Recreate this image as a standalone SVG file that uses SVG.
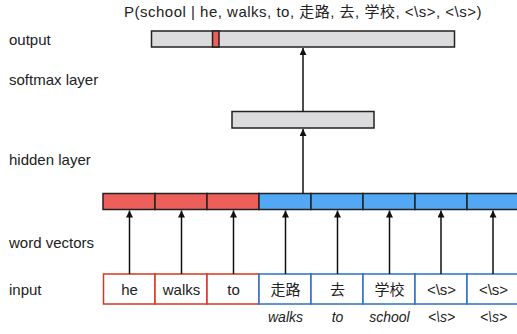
<svg xmlns="http://www.w3.org/2000/svg" width="517" height="334" viewBox="0 0 517 334">
<style>
text{font-family:"Liberation Sans","Noto Sans CJK SC",Arial,sans-serif;fill:#222;}
.lbl{font-size:15px;}
.ttl{font-size:15px;letter-spacing:0.5px;text-anchor:middle;}
.word{font-size:15px;text-anchor:middle;}
.it{font-size:14px;font-style:italic;text-anchor:middle;}
.gray{fill:#DCDCDE;stroke:#222;stroke-width:1.5;}
.red{fill:#EC5F5B;stroke:#222;stroke-width:1.5;}
.blue{fill:#52A8F5;stroke:#222;stroke-width:1.5;}
.inr{fill:#fff;stroke:#D5391E;stroke-width:1.5;}
.inb{fill:#fff;stroke:#2A72C8;stroke-width:1.5;}
.arr{stroke:#111;stroke-width:1.5;fill:none;marker-end:url(#ah);}
</style>
<defs>
<marker id="ah" viewBox="0 0 10 10" refX="10" refY="5" markerWidth="7" markerHeight="7" markerUnits="userSpaceOnUse" orient="auto">
<path d="M0,0 L10,5 L0,10 z" fill="#111"/>
</marker>
</defs>
<g id="labels">
<text class="ttl" x="303" y="17">P(school | he, walks, to, 走路, 去, 学校, &lt;\s&gt;, &lt;\s&gt;)</text>
<text class="lbl" x="9" y="45">output</text>
<text class="lbl" x="9" y="85">softmax layer</text>
<text class="lbl" x="9" y="165">hidden layer</text>
<text class="lbl" x="9" y="248">word vectors</text>
<text class="lbl" x="9" y="295">input</text>
</g>
<g id="output">
<rect class="gray" x="151.5" y="31" width="303" height="16"/>
<rect class="red" x="212.5" y="31" width="6.5" height="16"/>
</g>
<g id="hidden">
<rect class="gray" x="232" y="111.5" width="142" height="16.5"/>
</g>
<g id="wordvectors">
<rect class="red" x="103" y="193.5" width="52" height="16"/>
<rect class="red" x="155" y="193.5" width="52" height="16"/>
<rect class="red" x="207" y="193.5" width="52" height="16"/>
<rect class="blue" x="259" y="193.5" width="52" height="16"/>
<rect class="blue" x="311" y="193.5" width="52" height="16"/>
<rect class="blue" x="363" y="193.5" width="52" height="16"/>
<rect class="blue" x="415" y="193.5" width="52" height="16"/>
<rect class="blue" x="467" y="193.5" width="56" height="16"/>
</g>
<g id="input">
<rect class="inr" x="103.5" y="274" width="51.5" height="30"/>
<rect class="inr" x="155" y="274" width="52" height="30"/>
<rect class="inr" x="207" y="274" width="52" height="30"/>
<rect class="inb" x="259" y="274" width="52" height="30"/>
<rect class="inb" x="311" y="274" width="52" height="30"/>
<rect class="inb" x="363" y="274" width="52" height="30"/>
<rect class="inb" x="415" y="274" width="52" height="30"/>
<rect class="inb" x="467" y="274" width="56" height="30"/>
<text class="word" x="129.5" y="295">he</text>
<text class="word" x="181.5" y="295">walks</text>
<text class="word" x="233.5" y="295">to</text>
<text class="word" x="285.5" y="295">走路</text>
<text class="word" x="337.5" y="295">去</text>
<text class="word" x="389.5" y="295">学校</text>
<text class="word" x="441.5" y="295">&lt;\s&gt;</text>
<text class="word" x="493.5" y="295">&lt;\s&gt;</text>
</g>
<g id="translations">
<text class="it" x="285.5" y="322">walks</text>
<text class="it" x="337.5" y="322">to</text>
<text class="it" x="389.5" y="322">school</text>
<text class="it" x="441.5" y="322">&lt;\s&gt;</text>
<text class="it" x="493.5" y="322">&lt;\s&gt;</text>
</g>
<g id="connectors">
<line class="arr" x1="303" y1="111.5" x2="303" y2="48"/>
<line class="arr" x1="303" y1="193.5" x2="303" y2="129"/>
<line class="arr" x1="129.5" y1="274" x2="129.5" y2="210.5"/>
<line class="arr" x1="181.5" y1="274" x2="181.5" y2="210.5"/>
<line class="arr" x1="233.5" y1="274" x2="233.5" y2="210.5"/>
<line class="arr" x1="285.5" y1="274" x2="285.5" y2="210.5"/>
<line class="arr" x1="337.5" y1="274" x2="337.5" y2="210.5"/>
<line class="arr" x1="389.5" y1="274" x2="389.5" y2="210.5"/>
<line class="arr" x1="441" y1="274" x2="441" y2="210.5"/>
<line class="arr" x1="493" y1="274" x2="493" y2="210.5"/>
</g>
</svg>
